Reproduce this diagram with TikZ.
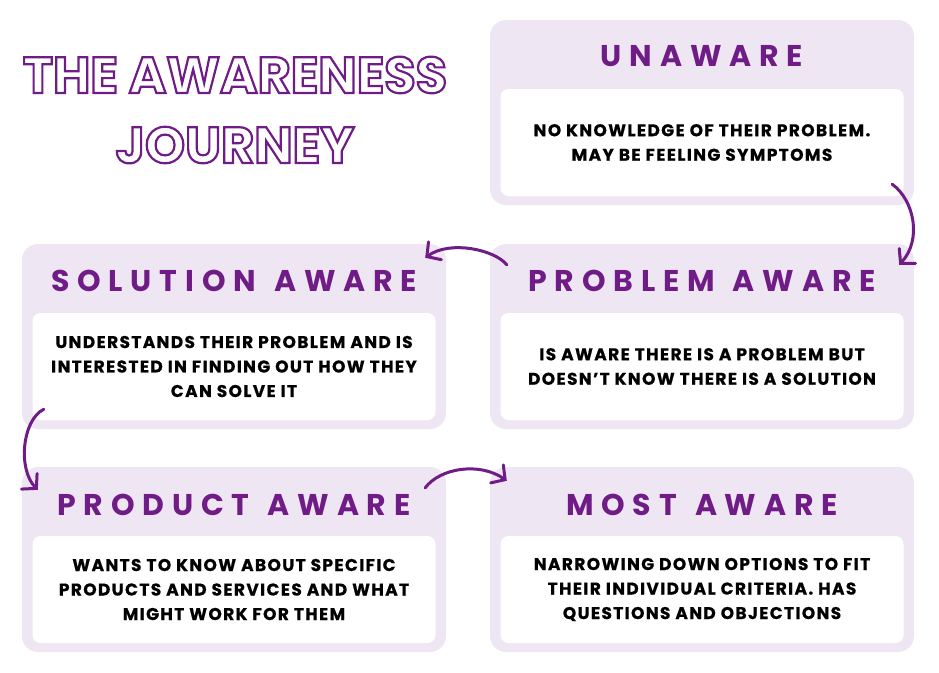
\documentclass[tikz,border=0pt]{standalone}
\usepackage{fontspec}
\setmainfont{Poppins}
\newfontfamily\headfont[LetterSpace=26]{Poppins}
\newfontfamily\bodyfont[LetterSpace=8,FakeBold=0.6]{Poppins}
\usetikzlibrary{arrows.meta}
\definecolor{jpurple}{HTML}{701C87}
\definecolor{cardbg}{HTML}{EFE6F3}
\newcommand{\outlined}[1]{\special{pdf:literal direct 1 Tr 2.2 w}#1\special{pdf:literal direct 0 Tr}}
\begin{document}
\begin{tikzpicture}[x=1pt,y=-1pt,
  card/.style={fill=cardbg,rounded corners=16pt,minimum width=424pt,minimum height=185pt,inner sep=0pt},
  inbox/.style={fill=white,rounded corners=8pt,minimum width=403pt,minimum height=107pt,inner sep=0pt,align=center,
    font=\bodyfont\bfseries\fontsize{17}{24.5}\selectfont},
  head/.style={text=jpurple,inner sep=0pt,font=\headfont\bfseries\fontsize{30}{30}\selectfont},
  bigtitle/.style={inner sep=0pt,text=jpurple,font=\bfseries\fontsize{51}{51}\selectfont},
  arr/.style={jpurple,line width=3pt,line cap=round,-{Straight Barb[length=10pt,width=22pt,line cap=round]}}]
\useasboundingbox (0,0) rectangle (939,672);
% title
\node[bigtitle] (title1) at (235,75) {\outlined{THE AWARENESS}};
\node[bigtitle] (title2) at (235,145) {\outlined{JOURNEY}};
% cards
\node[card] (unaware) at (702,112.5) {};
\node[card] (problem) at (702,336.5) {};
\node[card] (solution) at (234,336.5) {};
\node[card] (product) at (234,559.5) {};
\node[card] (most) at (702,559.5) {};
% headings
\node[head] (unawareH) at ([yshift=-36]unaware.north) {UNAWARE};
\node[head] (problemH) at ([yshift=-37]problem.north) {PROBLEM\hspace{4pt} AWARE};
\node[head] (solutionH) at ([yshift=-37]solution.north) {SOLUTION\hspace{4pt} AWARE};
\node[head] (productH) at ([yshift=-38]product.north) {PRODUCT\hspace{4pt} AWARE};
\node[head] (mostH) at ([yshift=-38]most.north) {MOST\hspace{4pt} AWARE};
% white boxes
\node[inbox] (unawareB) at ([yshift=-30]unaware.center) {NO KNOWLEDGE OF THEIR PROBLEM.\\MAY BE FEELING SYMPTOMS};
\node[inbox] (problemB) at ([yshift=-30]problem.center) {IS AWARE THERE IS A PROBLEM BUT\\DOESN’T KNOW THERE IS A SOLUTION};
\node[inbox] (solutionB) at ([yshift=-30]solution.center) {UNDERSTANDS THEIR PROBLEM AND IS\\INTERESTED IN FINDING OUT HOW THEY\\CAN SOLVE IT};
\node[inbox] (productB) at ([yshift=-30]product.center) {WANTS TO KNOW ABOUT SPECIFIC\\PRODUCTS AND SERVICES AND WHAT\\MIGHT WORK FOR THEM};
\node[inbox] (mostB) at ([yshift=-30]most.center) {NARROWING DOWN OPTIONS TO FIT\\THEIR INDIVIDUAL CRITERIA. HAS\\QUESTIONS AND OBJECTIONS};
% arrows
\draw[arr] ([shift={(-22,-21)}]unaware.south east) .. controls +(22,16) and +(23,-25) .. ([shift={(-15,21)}]problem.north east);
\draw[arr] ([shift={(17,21)}]problem.north west) .. controls +(-12,-15) and +(25,-18) .. ([shift={(-21,14)}]solution.north east);
\draw[arr] ([shift={(22,-20)}]solution.south west) .. controls +(-22,11) and +(-20,-20) .. ([shift={(16,23)}]product.north west);
\draw[arr] ([shift={(-21,21)}]product.north east) .. controls +(15,-20) and +(-27,-19) .. ([shift={(17,14)}]most.north west);
\end{tikzpicture}
\end{document}
